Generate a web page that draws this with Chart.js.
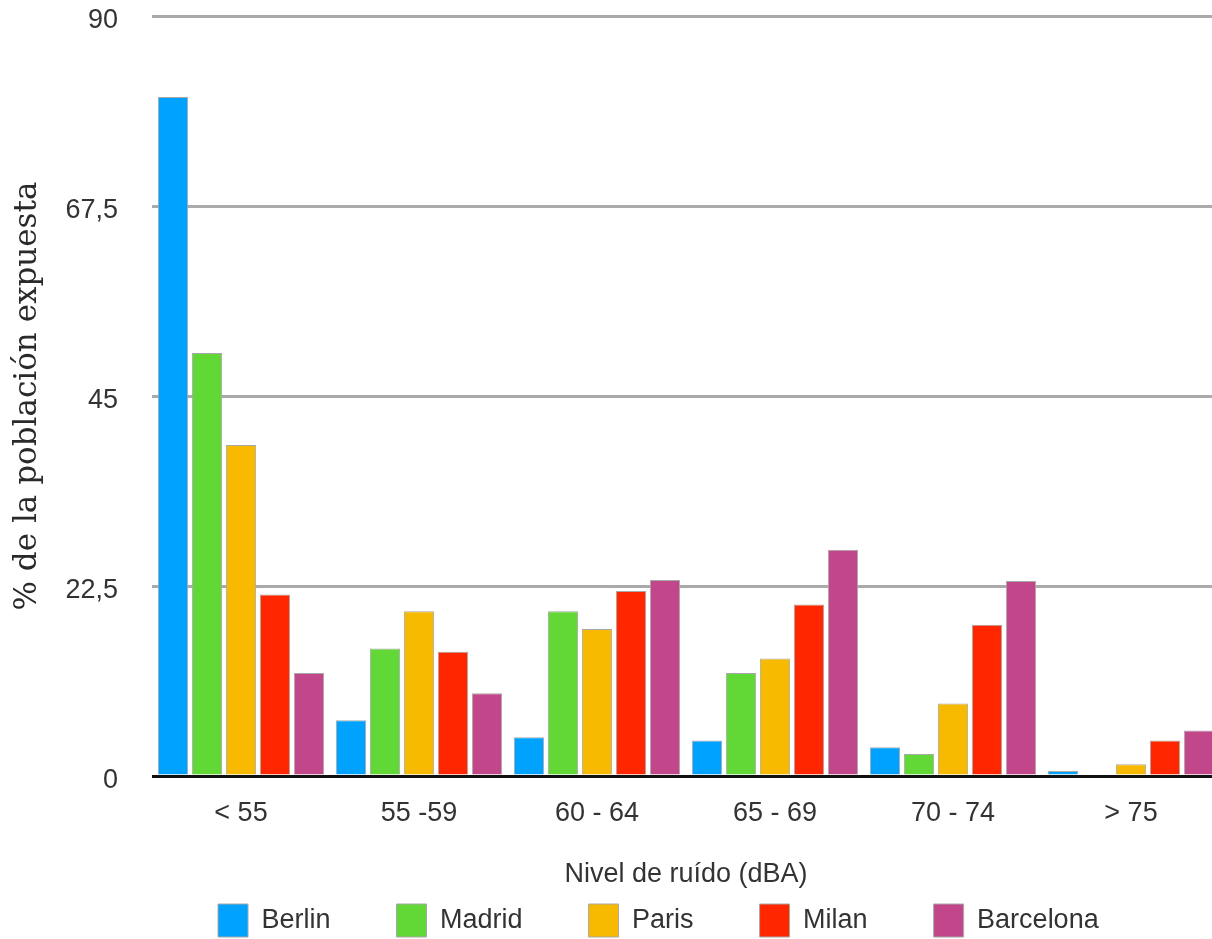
<!DOCTYPE html>
<html>
<head>
<meta charset="utf-8">
<script src="https://cdn.jsdelivr.net/npm/chart.js@4.4.0/dist/chart.umd.min.js"></script>
<style>
  html, body { margin: 0; padding: 0; background: #fff; overflow: hidden; }
  #wrap { width: 1220px; height: 947px; }
</style>
</head>
<body>
<div id="wrap"><canvas id="noiseChart" width="1220" height="947"></canvas></div>
<script>
// Noise exposure data, % of population per noise band
const categories = ['< 55', '55 -59', '60 - 64', '65 - 69', '70 - 74', '> 75'];
const cities = ['Berlin', 'Madrid', 'Paris', 'Milan', 'Barcelona'];
const berlin = [80.4, 6.6, 4.6, 4.2, 3.4, 0.6];
const madrid = [50.1, 15.1, 19.5, 12.2, 2.6, 0];
const paris = [39.2, 19.5, 17.4, 13.9, 8.6, 1.4];
const milan = [21.5, 14.7, 21.9, 20.3, 17.9, 4.2];
const barcelona = [12.2, 9.8, 23.2, 26.8, 23.1, 5.4];
const yTicks = [0, 22.5, 45, 67.5, 90];

const colors = ['#00A2FF', '#61D836', '#F8BA00', '#FF2600', '#C2478A'];
const series = [berlin, madrid, paris, milan, barcelona];

const ctx = document.getElementById('noiseChart').getContext('2d');

new Chart(ctx, {
    type: 'bar',
    data: {
        labels: categories,
        datasets: cities.map((name, i) => ({
            label: name,
            data: series[i],
            backgroundColor: colors[i],
            borderColor: '#a8a8a8',
            borderWidth: 1,
            categoryPercentage: 0.955,
            barPercentage: 0.89
        }))
    },
    options: {
        responsive: false,
        animation: false,
        layout: { padding: { top: 16, right: 0, bottom: 0, left: 0 } },
        plugins: {
            tooltip: { enabled: false },
            legend: {
                position: 'bottom',
                align: 'start',
                fullSize: false,
                labels: {
                    boxWidth: 30,
                    boxHeight: 33,
                    padding: 66,
                    color: '#333',
                    font: { family: 'Liberation Sans, Arial, sans-serif', size: 27 }
                }
            }
        },
        scales: {
            x: {
                grid: { display: false, drawTicks: false },
                border: { display: false },
                ticks: {
                    color: '#333',
                    padding: 21,
                    font: { family: 'Liberation Sans, Arial, sans-serif', size: 27 }
                },
                title: {
                    display: true,
                    text: 'Nivel de ruído (dBA)',
                    color: '#333',
                    font: { family: 'Liberation Sans, Arial, sans-serif', size: 27 },
                    padding: { top: 0, bottom: -53 }
                },
                afterFit: scale => { scale.height = 62; }
            },
            y: {
                min: 0,
                max: 90,
                afterBuildTicks: scale => { scale.ticks = yTicks.map(v => ({ value: v })); },
                grid: {
                    drawTicks: false,
                    lineWidth: 3,
                    color: c => (c.tick && c.tick.value === 0 ? '#111' : '#aaaaaa')
                },
                border: { display: false },
                ticks: {
                    color: '#333',
                    padding: 34,
                    labelOffset: 5,
                    font: { family: 'Liberation Sans, Arial, sans-serif', size: 27 },
                    callback: v => String(v).replace('.', ',')
                },
                title: {
                    display: true,
                    text: '% de la población expuesta',
                    color: '#2a2a2a',
                    font: { family: 'DejaVu Serif, serif', size: 31 },
                    padding: { top: 9, bottom: 0 }
                },
                afterFit: scale => {
                    scale.width = 152;
                    scale.paddingTop = 0;
                    scale.paddingBottom = 0;
                }
            }
        }
    }
});
</script>
</body>
</html>
